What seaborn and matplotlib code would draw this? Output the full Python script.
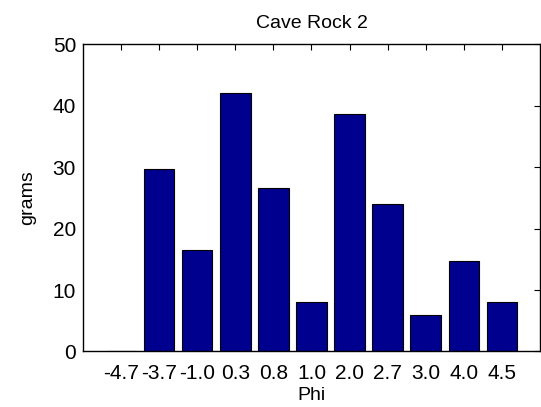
import matplotlib
matplotlib.use("Agg")
import matplotlib.pyplot as plt
import seaborn as sns

# Grain-size distribution for the Cave Rock 2 sample
phi_labels = ["-4.7", "-3.7", "-1.0", "0.3", "0.8", "1.0", "2.0", "2.7", "3.0", "4.0", "4.5"]
grams = [0.0, 29.8, 16.5, 42.1, 26.7, 8.0, 38.7, 24.1, 5.9, 14.8, 8.0]
y_ticks = [0, 10, 20, 30, 40, 50]

sns.set_theme(style="white")
plt.rcParams["font.family"] = ["Liberation Sans", "DejaVu Sans"]

fig = plt.figure(figsize=(5.41, 4.07), dpi=100)
ax = fig.add_axes([0.1534, 0.1364, 0.8447, 0.7543])

sns.barplot(x=phi_labels, y=grams, color="#00008F", saturation=1,
            edgecolor="black", linewidth=0.8, width=0.8, ax=ax)

ax.set_xlim(-1, 11)
ax.set_ylim(0, 50)
ax.set_yticks(y_ticks)
ax.set_yticklabels([str(t) for t in y_ticks])

for side in ["left", "right", "top", "bottom"]:
    ax.spines[side].set_visible(True)
    ax.spines[side].set_color("black")
    ax.spines[side].set_linewidth(1.0)

ax.tick_params(axis="both", direction="in", length=4, width=0.8, colors="black",
               labelsize=15, top=True, right=True, labelcolor="black", pad=5)
ax.tick_params(axis="x", pad=9)

ax.set_title("Cave Rock 2", fontsize=14, color="black", pad=12)
ax.set_xlabel("Phi", fontsize=14, color="black", labelpad=3)
ax.set_ylabel("grams", fontsize=14, color="black", labelpad=12)

fig.savefig("out.png", dpi=100)
